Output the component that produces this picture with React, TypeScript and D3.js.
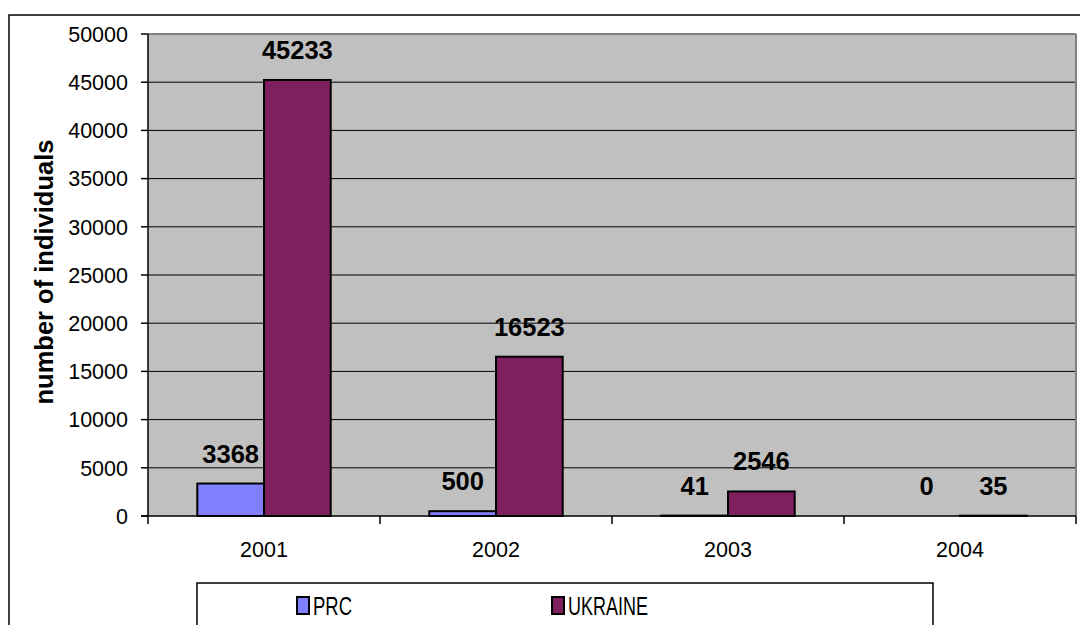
import React from "react";
import * as d3 from "d3";

const categories = ["2001", "2002", "2003", "2004"];
const seriesNames = ["PRC", "UKRAINE"];
const prcValues = [3368, 500, 41, 0];
const ukraineValues = [45233, 16523, 2546, 35];
const yTicks = [0, 5000, 10000, 15000, 20000, 25000, 30000, 35000, 40000, 45000, 50000];
const colors = ["#8080FF", "#801F5F"];

const W = 1080;
const H = 625;
const plot = { left: 148, right: 1076, top: 34, bottom: 516 };
const font = "'Liberation Sans', Arial, sans-serif";

export default function App() {
  const x0 = d3.scaleBand<string>().domain(categories).range([plot.left, plot.right]).padding(0);
  const bw = x0.bandwidth();
  const groupW = bw * 0.575;
  const x1 = d3.scaleBand<string>().domain(seriesNames).range([0, groupW]).padding(0);
  const y = d3.scaleLinear().domain([0, 50000]).range([plot.bottom, plot.top]);
  const series = [prcValues, ukraineValues];
  const catEdges = categories.map((c) => x0(c)!).concat([plot.right]);

  return (
    <svg width={W} height={H} style={{ position: "absolute", left: 0, top: 0, background: "#fff" }} fontFamily={font}>
      <rect x={0} y={0} width={W} height={H} fill="#fff" />
      <rect x={9} y={15} width={1200} height={800} fill="#fff" stroke="#000" strokeWidth={1.5} />
      <rect x={plot.left} y={plot.top} width={plot.right - plot.left} height={plot.bottom - plot.top} fill="#C0C0C0" />
      {yTicks.filter((t) => t > 0).map((t) => (
        <line key={"g" + t} x1={plot.left} x2={plot.right} y1={y(t)} y2={y(t)} stroke="#000" strokeWidth={1} />
      ))}
      <line x1={plot.left} x2={plot.right} y1={plot.top} y2={plot.top} stroke="#808080" strokeWidth={2} />
      <line x1={plot.right} x2={plot.right} y1={plot.top} y2={plot.bottom} stroke="#808080" strokeWidth={2} />
      {series.map((vals, si) =>
        categories.map((c, ci) => {
          const bx = x0(c)! + (bw - groupW) / 2 + x1(seriesNames[si])!;
          const by = y(vals[ci]);
          return (
            <rect key={si + "-" + ci} x={bx} y={by} width={x1.bandwidth()} height={plot.bottom - by}
              fill={colors[si]} stroke="#000" strokeWidth={2} />
          );
        })
      )}
      <line x1={plot.left} x2={plot.left} y1={plot.top} y2={plot.bottom} stroke="#000" strokeWidth={1.5} />
      <line x1={plot.left - 7} x2={plot.right} y1={plot.bottom} y2={plot.bottom} stroke="#000" strokeWidth={1.5} />
      {yTicks.map((t) => (
        <g key={"t" + t}>
          <line x1={plot.left - 7} x2={plot.left} y1={y(t)} y2={y(t)} stroke="#000" strokeWidth={1.5} />
          <text x={128} y={y(t)} dy="0.36em" textAnchor="end" fontSize={21.5} fill="#000">{t}</text>
        </g>
      ))}
      {catEdges.map((e, i) => (
        <line key={"xt" + i} x1={e} x2={e} y1={plot.bottom} y2={plot.bottom + 8} stroke="#000" strokeWidth={1.5} />
      ))}
      {categories.map((c) => (
        <text key={"xl" + c} x={x0(c)! + bw / 2} y={557} textAnchor="middle" fontSize={21.5} fill="#000">{c}</text>
      ))}
      {series.map((vals, si) =>
        categories.map((c, ci) => {
          const cx = x0(c)! + (bw - groupW) / 2 + x1(seriesNames[si])! + x1.bandwidth() / 2;
          return (
            <text key={"l" + si + ci} x={cx} y={y(vals[ci]) - 21} textAnchor="middle" fontSize={25.5} fontWeight="bold" fill="#000">
              {vals[ci]}
            </text>
          );
        })
      )}
      <text transform={`translate(53, 272) rotate(-90)`} textAnchor="middle" fontSize={25.5} fontWeight="bold" fill="#000">
        number of individuals
      </text>
      <rect x={197} y={583} width={736} height={100} fill="#fff" stroke="#000" strokeWidth={1.5} />
      {seriesNames.map((s, i) => {
        const sx = [297, 552][i];
        return (
          <g key={"lg" + s}>
            <rect x={sx} y={597} width={12} height={17} fill={colors[i]} stroke="#000" strokeWidth={2} />
            <text x={sx + 16} y={615} fontSize={25} fill="#000" textLength={s === "PRC" ? 39 : 80} lengthAdjust="spacingAndGlyphs">{s}</text>
          </g>
        );
      })}
    </svg>
  );
}
